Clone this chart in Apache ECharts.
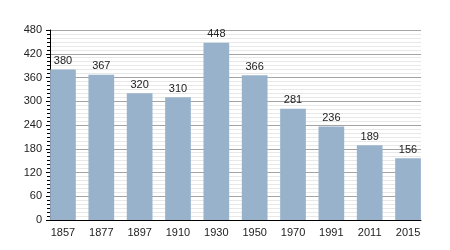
<!DOCTYPE html>
<html><head><meta charset="utf-8">
<script src="https://cdn.jsdelivr.net/npm/echarts@6/dist/echarts.min.js"></script>
<style>html,body{margin:0;padding:0;background:#fff}#c{width:450px;height:250px}</style>
</head><body><div id="c"></div>
<script>
const years = ['1857','1877','1897','1910','1930','1950','1970','1991','2011','2015'];
const population = [380, 367, 320, 310, 448, 366, 281, 236, 189, 156];
const yMin = 0, yMax = 480, yStep = 60;

const chart = echarts.init(document.getElementById('c'), null, {renderer: 'canvas'});
const font = 'Liberation Sans, Arial, sans-serif';
chart.setOption({
  animation: false,
  grid: [
    {left: 50, right: 29, top: 30, bottom: 30},
    {left: 43.8, right: 22.8, top: 30, bottom: 30}
  ],
  xAxis: [
    {gridIndex: 0, type: 'value', min: 0, max: 1,
     axisLine: {show: true, lineStyle: {color: '#000', width: 1}},
     axisTick: {show: false}, axisLabel: {show: false}, splitLine: {show: false}},
    {gridIndex: 1, type: 'category', data: years,
     axisLine: {show: false}, axisTick: {show: false},
     axisLabel: {color: '#222', fontSize: 11, fontFamily: font, margin: 7}}
  ],
  yAxis: [
    {gridIndex: 0, type: 'value', min: yMin, max: yMax, interval: yStep,
     axisLine: {show: true, lineStyle: {color: '#000', width: 1}},
     axisTick: {show: true, length: 4, lineStyle: {color: '#000'}},
     minorTick: {show: true, splitNumber: 6, length: 3, lineStyle: {color: '#000'}},
     axisLabel: {color: '#222', fontSize: 11, fontFamily: font, margin: 8},
     splitLine: {show: true, lineStyle: {color: '#a4a4a4', width: 1}},
     minorSplitLine: {show: true, lineStyle: {color: '#e8e8e8', width: 1}}},
    {gridIndex: 1, type: 'value', min: yMin, max: yMax, show: false, splitLine: {show: false}}
  ],
  series: [{
    type: 'bar', xAxisIndex: 1, yAxisIndex: 1, data: population,
    barWidth: 25.7,
    itemStyle: {color: '#98b2cc'},
    label: {show: true, position: 'top', distance: 3, color: '#222', fontSize: 11, fontFamily: font}
  }]
});
</script></body></html>
